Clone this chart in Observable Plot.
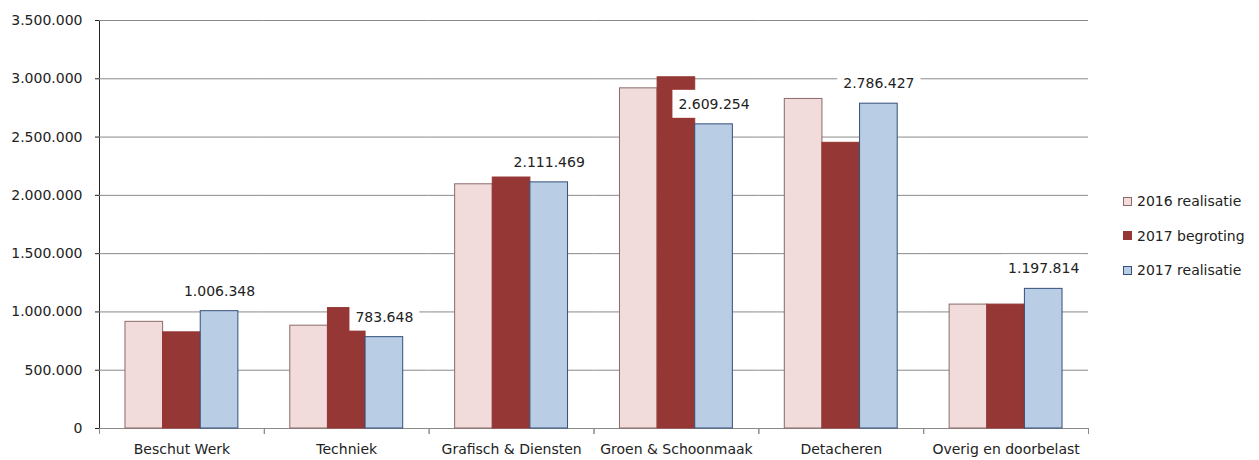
<!DOCTYPE html>
<html>
<head>
<meta charset="utf-8">
<script src="https://cdn.jsdelivr.net/npm/d3@7"></script>
<script src="https://cdn.jsdelivr.net/npm/@observablehq/plot@0.6"></script>
<style>
  html, body { margin: 0; padding: 0; background: #fff; }
  #wrap { position: relative; width: 1259px; height: 460px; font-family: "DejaVu Sans", sans-serif; color: #222; }
  #chart { position: absolute; left: 0; top: 0; }
  #legend { position: absolute; left: 1123px; top: 193px; font-size: 14px; }
  #legend .item { display: flex; align-items: center; height: 16px; margin-bottom: 18.5px; white-space: nowrap; }
  #legend .sw { width: 9px; height: 9px; margin-right: 5px; box-sizing: border-box; }
</style>
</head>
<body>
<div id="wrap"><div id="chart"></div><div id="legend"></div></div>
<script>
const categories = ["Beschut Werk", "Techniek", "Grafisch & Diensten", "Groen & Schoonmaak", "Detacheren", "Overig en doorbelast"];
const series = ["2016 realisatie", "2017 begroting", "2017 realisatie"];
const realisatie2016 = [915000, 882000, 2095000, 2918000, 2827000, 1063000];
const begroting2017 = [825000, 1033000, 2153000, 3013000, 2451000, 1063000];
const realisatie2017 = [1006348, 783648, 2111469, 2609254, 2786427, 1197814];
const yTicks = [0, 500000, 1000000, 1500000, 2000000, 2500000, 3000000, 3500000];
const fills = ["#F2DCDB", "#953735", "#B9CDE5"];
const strokes = ["#8c6a6a", "#953735", "#34507a"];

const values = [realisatie2016, begroting2017, realisatie2017];
const data = categories.flatMap((c, i) => series.map((s, j) => ({category: c, series: s, value: values[j][i]})));
const fmt = d => d3.format(",")(d).replace(/,/g, ".");
const labelData = data.filter(d => d.series === "2017 realisatie");

const plot = Plot.plot({
  width: 1259, height: 460,
  marginLeft: 99, marginRight: 171, marginTop: 20, marginBottom: 32,
  style: {fontFamily: "DejaVu Sans, sans-serif", fontSize: "14px", color: "#222", background: "#fff"},
  fx: {domain: categories, paddingInner: 0, paddingOuter: 0, round: false, label: null, axis: "bottom", tickSize: 0, tickPadding: 16},
  x: {domain: series, paddingInner: 0, paddingOuter: 0.69, round: false, axis: null},
  y: {domain: [0, 3500000], ticks: yTicks, tickFormat: fmt, label: null, tickSize: 4, tickPadding: 13, line: true},
  marks: [
    Plot.gridY(yTicks, {stroke: "#8a8a8a", strokeOpacity: 1}),
    Plot.frame({anchor: "left", insetTop: 408, insetBottom: -5, stroke: "#8a8a8a"}),
    Plot.frame({anchor: "right", insetTop: 408, insetBottom: -5, stroke: "#8a8a8a"}),
    ...series.map((s, j) => Plot.barY(data.filter(d => d.series === s), {
      fx: "category", x: "series", y: "value", fill: fills[j], stroke: strokes[j], strokeWidth: 1
    })),
    Plot.text(labelData, {fx: "category", x: "series", y: "value", text: d => fmt(d.value), dy: -20, fill: "#222", fontSize: 14})
  ]
});
document.getElementById("chart").appendChild(plot);

// white boxes behind the value labels
d3.select(plot).selectAll('g[aria-label="text"] text').each(function() {
  const bb = this.getBBox();
  const pad = 6;
  d3.select(this.parentNode).insert("rect", () => this)
    .attr("transform", this.getAttribute("transform"))
    .attr("x", bb.x - pad).attr("y", bb.y - pad)
    .attr("width", bb.width + 2 * pad).attr("height", bb.height + 2 * pad)
    .attr("fill", "#fff");
});

const legend = d3.select("#legend");
series.forEach((s, j) => {
  const item = legend.append("div").attr("class", "item");
  item.append("div").attr("class", "sw").style("background", fills[j]).style("border", `1px solid ${strokes[j]}`);
  item.append("span").text(s);
});
</script>
</body>
</html>
